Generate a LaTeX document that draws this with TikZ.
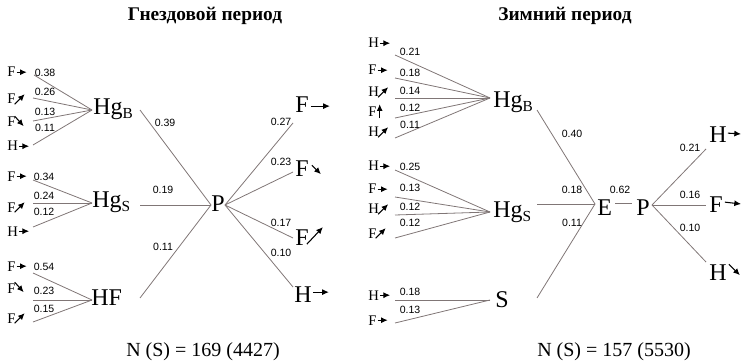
\documentclass[tikz,border=0pt]{standalone}
\usepackage{fontspec}
\setmainfont{Liberation Serif}
\newfontfamily\sansnum{Liberation Sans}
\usetikzlibrary{arrows.meta,calc}
\definecolor{linegray}{RGB}{128,118,118}
\newcommand\numfont{\sansnum\fontsize{7.9}{8}\selectfont}
\newcommand\smfont{\fontsize{11}{11}\selectfont}
\newcommand\bgfont{\fontsize{18}{18}\selectfont}
\newcommand\subsc[1]{\raisebox{-2.5pt}{\fontsize{11.5}{11.5}\selectfont #1}}
\tikzset{
  conn/.style={draw=linegray, line width=0.6pt},
  num/.style={font=\numfont, inner sep=0pt},
  sl/.style={font=\smfont, inner sep=0pt, anchor=base west},
  big/.style={font=\bgfont, inner sep=0pt, anchor=base west},
  arr/.style={-{Latex[length=5pt,width=4.5pt]}, line width=0.8pt},
  title/.style={font=\bfseries\fontsize{14.5}{14.5}\selectfont, inner sep=0pt, anchor=base},
  total/.style={font=\fontsize{15}{15}\selectfont, inner sep=0pt, anchor=base},
}
% small labels with arrows
\newcommand\Rl[3]{\node[sl] (#1) at (#2) {#3}; \draw[arr] ($(#1.east)+(1,0)$) -- ++(10,0);}
\newcommand\NEl[3]{\node[sl] (#1) at (#2) {#3}; \draw[arr] ($(#1.east)+(-1,5)$) -- ++(10,-10);}
\newcommand\SEl[3]{\node[sl] (#1) at (#2) {#3}; \draw[arr] ($(#1.east)+(-1,-6)$) -- ++(9,10);}
\newcommand\Ul[3]{\node[sl] (#1) at (#2) {#3}; \draw[arr] ($(#1.east)+(3,6)$) -- ++(0,-14);}
\begin{document}
\begin{tikzpicture}[x=0.75pt,y=-0.75pt]
\useasboundingbox (0,0) rectangle (741,363);

% ===== titles and totals =====
\node[title] (t1) at (205,21) {Гнездовой период};
\node[title] (t2) at (565,21) {Зимний период};
\node[total] (n1) at (203,356) {N (S) = 169 (4427)};
\node[total] (n2) at (614,356) {N (S) = 157 (5530)};

% ===== LEFT PANEL =====
% Hg_B group
\Rl{a1}{7,77}{F}
\NEl{a2}{7,104}{F}
\SEl{a3}{7,127}{F}
\Rl{a4}{7,151}{H}
\node[big] (hgb) at (93,115) {Hg\subsc{B}};
\coordinate (cb) at (92,110);
\coordinate (a1s) at (34,75); \coordinate (a2s) at (33,98);
\coordinate (a3s) at (33,121); \coordinate (a4s) at (33,145);
\foreach \s in {a1s,a2s,a3s,a4s} \draw[conn] (\s) -- (cb);
\node[num] at (45,73) {0.38};
\node[num] at (45,92) {0.26};
\node[num] at (45,112) {0.13};
\node[num] at (45,128) {0.11};

% Hg_S group
\Rl{b1}{7,181}{F}
\NEl{b2}{7,212}{F}
\Rl{b3}{7,236}{H}
\node[big] (hgs) at (92,208) {Hg\subsc{S}};
\coordinate (cs) at (92,203);
\coordinate (b1s) at (33,180); \coordinate (b2s) at (33,203); \coordinate (b3s) at (33,227);
\foreach \s in {b1s,b2s,b3s} \draw[conn] (\s) -- (cs);
\node[num] at (44,177) {0.34};
\node[num] at (44,196) {0.24};
\node[num] at (44,212) {0.12};

% HF group
\Rl{c1}{7,271}{F}
\SEl{c2}{7,293}{F}
\NEl{c3}{7,323}{F}
\node[big] (hf) at (91,305) {HF};
\coordinate (cf) at (92,300);
\coordinate (c1s) at (33,273); \coordinate (c2s) at (33,300); \coordinate (c3s) at (33,322);
\foreach \s in {c1s,c2s,c3s} \draw[conn] (\s) -- (cf);
\node[num] at (44,267) {0.54};
\node[num] at (44,291) {0.23};
\node[num] at (44,309) {0.15};

% P hub
\node[big] (p1) at (211,211) {P};
\coordinate (p1in) at (211,205);
\coordinate (p1out) at (225,205);
\coordinate (m1) at (140,110); \coordinate (m2) at (140,205); \coordinate (m3) at (140,298);
\foreach \s in {m1,m2,m3} \draw[conn] (\s) -- (p1in);
\node[num] at (165,123) {0.39};
\node[num] at (163,190) {0.19};
\node[num] at (163,247) {0.11};

\node[big] (o1) at (295,113) {F};
\node[big] (o2) at (295,176) {F};
\node[big] (o3) at (295,245) {F};
\node[big] (o4) at (294,302) {H};
\coordinate (e1) at (293,123); \coordinate (e2) at (293,172);
\coordinate (e3) at (293,238); \coordinate (e4) at (293,287);
\foreach \s in {e1,e2,e3,e4} \draw[conn] (p1out) -- (\s);
\draw[arr] ($(o1.east)+(2,1)$) -- ++(19,0);
\draw[arr] ($(o2.east)+(3,-3)$) -- ++(9,9);
\draw[arr] ($(o3.east)+(-2,7)$) -- ++(16,-17);
\draw[arr] ($(o4.east)+(1,-2)$) -- ++(16,0);
\node[num] at (281,122) {0.27};
\node[num] at (281,162) {0.23};
\node[num] at (281,223) {0.17};
\node[num] at (281,253) {0.10};

% ===== RIGHT PANEL =====
% Hg_B group
\Rl{d1}{368,48}{H}
\Rl{d2}{368,75}{F}
\NEl{d3}{368,97}{H}
\Ul{d4}{368,117}{F}
\NEl{d5}{368,137}{H}
\node[big] (rhgb) at (493,108) {Hg\subsc{B}};
\coordinate (crb) at (490,98);
\coordinate (d1s) at (395,55); \coordinate (d2s) at (395,78); \coordinate (d3s) at (395,98);
\coordinate (d4s) at (395,118); \coordinate (d5s) at (395,138);
\foreach \s in {d1s,d2s,d3s,d4s,d5s} \draw[conn] (\s) -- (crb);
\node[num] at (410,52) {0.21};
\node[num] at (410,73) {0.18};
\node[num] at (410,91) {0.14};
\node[num] at (410,108) {0.12};
\node[num] at (410,125) {0.11};

% Hg_S group
\Rl{f1}{368,171}{H}
\Rl{f2}{368,194}{F}
\NEl{f3}{368,214}{H}
\NEl{f4}{368,238}{F}
\node[big] (rhgs) at (493,218) {Hg\subsc{S}};
\coordinate (crs) at (490,212);
\coordinate (f1s) at (395,170); \coordinate (f2s) at (395,197);
\coordinate (f3s) at (395,215); \coordinate (f4s) at (395,238);
\foreach \s in {f1s,f2s,f3s,f4s} \draw[conn] (\s) -- (crs);
\node[num] at (410,167) {0.25};
\node[num] at (410,188) {0.13};
\node[num] at (410,207) {0.12};
\node[num] at (410,223) {0.12};

% S group
\Rl{g1}{368,300}{H}
\Rl{g2}{368,325}{F}
\node[big] (rs) at (495,307) {S};
\coordinate (crss) at (490,300);
\coordinate (g1s) at (395,300); \coordinate (g2s) at (395,323);
\foreach \s in {g1s,g2s} \draw[conn] (\s) -- (crss);
\node[num] at (410,292) {0.18};
\node[num] at (410,310) {0.13};

% E and P
\node[big] (re) at (597,215) {E};
\node[big] (rp) at (636,215) {P};
\coordinate (ein) at (595,204);
\coordinate (q1) at (537,110); \coordinate (q2) at (537,204); \coordinate (q3) at (537,298);
\foreach \s in {q1,q2,q3} \draw[conn] (\s) -- (ein);
\draw[conn] ($(re.east)+(3,-4)$) -- ($(rp.west)+(-4,-4)$);
\node[num] at (572,134) {0.40};
\node[num] at (572,190) {0.18};
\node[num] at (572,223) {0.11};
\node[num] at (620,190) {0.62};

\coordinate (rpout) at (652,205);
\node[big] (u1) at (709,143) {H};
\node[big] (u2) at (709,212) {F};
\node[big] (u3) at (709,280) {H};
\coordinate (v1) at (706,149); \coordinate (v2) at (706,205); \coordinate (v3) at (706,262);
\foreach \s in {v1,v2,v3} \draw[conn] (rpout) -- (\s);
\draw[arr] ($(u1.east)+(1,-2)$) -- (741,134);
\draw[arr] ($(u2.east)+(2,-2)$) -- (741,204);
\draw[arr] ($(u3.east)+(2,-8)$) -- ++(11,11);
\node[num] at (690,148) {0.21};
\node[num] at (690,195) {0.16};
\node[num] at (690,228) {0.10};
\end{tikzpicture}
\end{document}
